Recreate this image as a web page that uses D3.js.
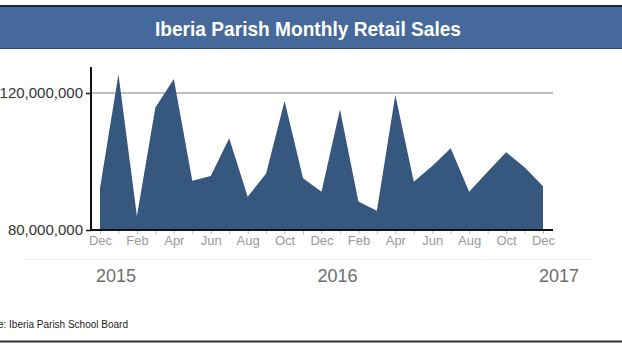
<!doctype html>
<html lang="en">
<head>
  <meta charset="utf-8">
  <style>
    body { margin: 0; background: #fff; }
    svg { display: block; font-family: Arial, "Liberation Sans", sans-serif; }
    .month-axis text { fill: #9a9a9a; font-size: 13px; }
    .month-axis line { stroke: #bbb; }
    .month-axis path { display: none; }
    .year-axis text { fill: #6e6e6e; font-size: 18px; }
    .year-axis line, .year-axis path { display: none; }
    .y-axis text { fill: #333; font-size: 15px; }
  </style>
  <script src="https://d3js.org/d3.v7.min.js"></script>
</head>
<body>
  <script>
    // Dec 2014 .. Dec 2016
    const months = ["Dec","Jan","Feb","Mar","Apr","May","Jun","Jul","Aug","Sep","Oct","Nov",
                    "Dec","Jan","Feb","Mar","Apr","May","Jun","Jul","Aug","Sep","Oct","Nov","Dec"];
    const sales = [92.2, 125.5, 84.1, 115.8, 124.1, 94.4, 95.8, 106.8, 89.7, 96.5, 117.7, 95.1,
                   91.2, 115.2, 88.3, 85.6, 119.4, 94.1, 98.7, 103.9, 91.2, 97.0, 102.7, 98.3, 92.8]
                   .map(v => v * 1e6);
    const years = ["2015", "2016", "2017"];
    const yearIndex = [1, 13, 25];
    const yTicks = [80e6, 120e6];

    const W = 622, H = 352;
    const svg = d3.select("body").append("svg")
        .attr("width", W)
        .attr("height", H);

    // header bar
    svg.append("rect").attr("x", 0).attr("y", 5).attr("width", W).attr("height", 2).attr("fill", "#1c2633");
    svg.append("rect").attr("x", 0).attr("y", 7).attr("width", W).attr("height", 41).attr("fill", "#44699a");
    svg.append("rect").attr("x", 0).attr("y", 48).attr("width", W).attr("height", 1).attr("fill", "#2f4d73");
    svg.append("text")
        .attr("x", 308)
        .attr("y", 36)
        .attr("text-anchor", "middle")
        .attr("fill", "#fff")
        .attr("textLength", 306)
        .attr("lengthAdjust", "spacingAndGlyphs")
        .style("font-family", "'Liberation Sans Narrow', 'Arial Narrow', Arial, sans-serif")
        .style("font-weight", "bold")
        .style("font-size", "21px")
        .text("Iberia Parish Monthly Retail Sales");

    const x = d3.scaleLinear()
        .domain([0, months.length - 1])
        .range([100, 543]);

    const y = d3.scaleLinear()
        .domain([80e6, 120e6])
        .range([230, 93]);

    // gridline at 120M
    svg.append("line")
        .attr("x1", 91).attr("x2", 553)
        .attr("y1", y(120e6)).attr("y2", y(120e6))
        .attr("stroke", "#aaa")
        .attr("stroke-width", 1.5);

    const area = d3.area()
        .x((d, i) => x(i))
        .y0(y(80e6))
        .y1(d => y(d));

    svg.append("path")
        .datum(sales)
        .attr("d", area)
        .attr("fill", "#36587f");

    // month axis
    svg.append("g")
        .attr("class", "month-axis")
        .attr("transform", `translate(0,${y(80e6)})`)
        .call(d3.axisBottom(x)
            .tickValues(d3.range(months.length))
            .tickSize(4)
            .tickPadding(2)
            .tickFormat(i => i % 2 === 0 ? months[i] : ""));

    // y axis
    const yAxis = svg.append("g")
        .attr("class", "y-axis")
        .attr("transform", "translate(91,0)")
        .call(d3.axisLeft(y)
            .tickValues(yTicks)
            .tickSize(5)
            .tickPadding(3)
            .tickFormat(d3.format(",")));
    yAxis.select(".domain").remove();
    yAxis.selectAll("line").attr("stroke", "#111").attr("stroke-width", 1.5);

    svg.append("line")
        .attr("x1", 91).attr("x2", 91)
        .attr("y1", 67).attr("y2", 231)
        .attr("stroke", "#111").attr("stroke-width", 2);
    svg.append("line")
        .attr("x1", 90).attr("x2", 553)
        .attr("y1", 230).attr("y2", 230)
        .attr("stroke", "#111").attr("stroke-width", 2);

    // separator
    svg.append("line")
        .attr("x1", 25).attr("x2", 590)
        .attr("y1", 259.5).attr("y2", 259.5)
        .attr("stroke", "#eee");

    // year axis
    svg.append("g")
        .attr("class", "year-axis")
        .attr("transform", "translate(-3,269)")
        .call(d3.axisBottom(x)
            .tickValues(yearIndex)
            .tickSize(0)
            .tickPadding(0)
            .tickFormat((d, i) => years[i]));

    // source (cut at the left edge, as in the original)
    svg.append("text")
        .attr("x", 128)
        .attr("y", 328)
        .attr("text-anchor", "end")
        .attr("fill", "#222")
        .style("font-size", "10px")
        .text("Source: Iberia Parish School Board");

    svg.append("rect").attr("x", 0).attr("y", 340.5).attr("width", W).attr("height", 2).attr("fill", "#333");
  </script>
</body>
</html>
